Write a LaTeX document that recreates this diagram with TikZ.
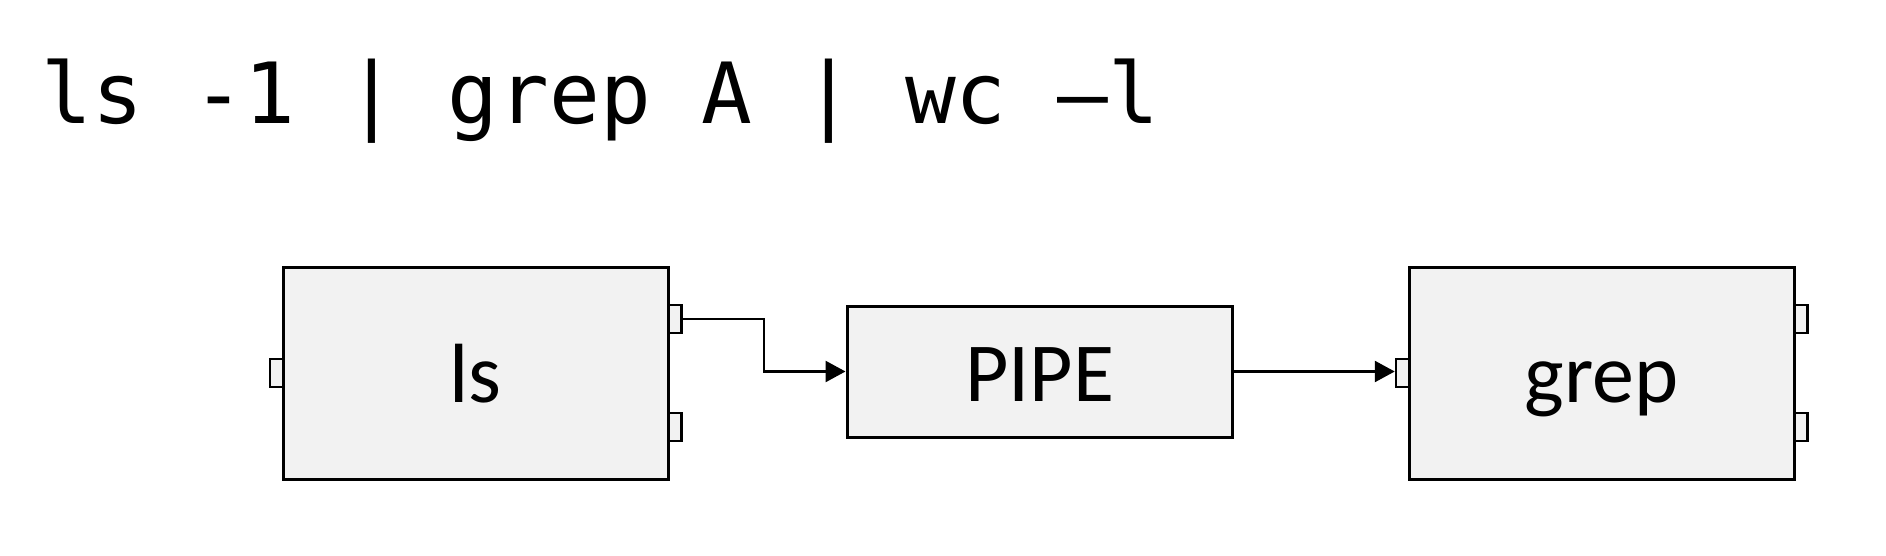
\documentclass[tikz,border=0pt]{standalone}
\usepackage{fontspec}
\setmainfont{Carlito}
\newfontfamily\monofnt{DejaVu Sans Mono}
\usetikzlibrary{arrows.meta}
\definecolor{boxfill}{RGB}{242,242,242}
\begin{document}
\begin{tikzpicture}[x=0.5pt,y=-0.5pt,
  blk/.style={draw, line width=1.5pt, fill=boxfill, inner sep=0pt},
  bigblk/.style={blk, minimum width=192.5pt, minimum height=106pt},
  port/.style={draw, line width=1.25pt, fill=boxfill, inner sep=0pt, minimum width=6.5pt, minimum height=14pt},
  lbl/.style={anchor=base, inner sep=0pt, font=\fontsize{42pt}{42pt}\selectfont},
  arr/.style={line width=1.25pt, -{Triangle[length=10pt,width=10.5pt]}}]
\useasboundingbox (0,0) rectangle (1886,556);
% title
\node[anchor=base west, inner sep=0pt, font=\monofnt\fontsize{42.2pt}{50pt}\selectfont] (title) at (41,124) {ls -1 | grep A | wc –l};
% blocks
\node[bigblk] (ls) at (475.5,373.5) {};
\node[blk, minimum width=192.5pt, minimum height=65.5pt] (pipe) at (1039.5,371.5) {};
\node[bigblk] (grep) at (1601.5,373.5) {};
% labels
\node[lbl] (lslbl) at (475.5,402) {ls};
\node[lbl] (pipelbl) at (1039.5,401) {PIPE};
\node[lbl] (greplbl) at (1601.5,402) {grep};
% ports
\node[port] (lsL) at (276.5,373) {};
\node[port] (lsR1) at (675,319) {};
\node[port] (lsR2) at (675,427) {};
\node[port] (grepL) at (1402.5,373) {};
\node[port] (grepR1) at (1801,319) {};
\node[port] (grepR2) at (1801,427) {};
% connectors
\coordinate (bend) at (764,319);
\draw[arr] (lsR1.east) -- (bend) |- (pipe.west);
\draw[arr] (pipe.east) -- (pipe.east -| grepL.west);
\end{tikzpicture}
\end{document}
